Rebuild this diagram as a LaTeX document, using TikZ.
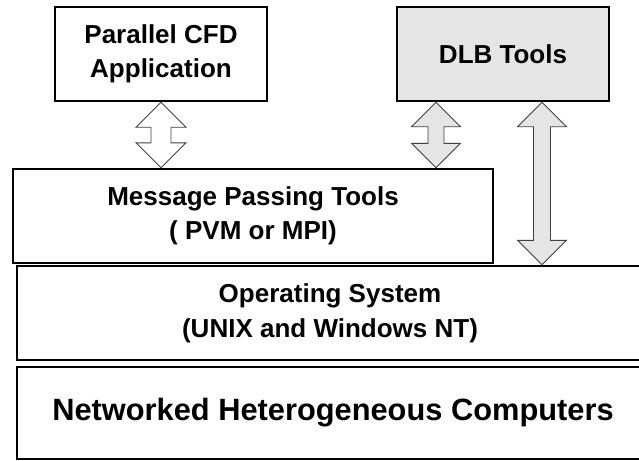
\documentclass[tikz,border=0pt]{standalone}
\usepackage{fontspec}
\setmainfont{Liberation Sans}
\usepackage{tikz}
\usetikzlibrary{calc}
\usepackage{xcolor}
\definecolor{dlbgray}{gray}{0.9}

% block arrow with a head at both ends: top, bottom, head half width, shaft half width, fill
\newcommand{\fatarrow}[5]{%
  \draw[arrowline, fill=#5] let \p1=(#1), \p2=(#2) in
    (\x1,\y1) -- ({\x1-#3pt},{\y1-#3pt}) -- ({\x1-#4pt},{\y1-#3pt})
    -- ({\x2-#4pt},{\y2+#3pt}) -- ({\x2-#3pt},{\y2+#3pt}) -- (\x2,\y2)
    -- ({\x2+#3pt},{\y2+#3pt}) -- ({\x2+#4pt},{\y2+#3pt})
    -- ({\x1+#4pt},{\y1-#3pt}) -- ({\x1+#3pt},{\y1-#3pt}) -- cycle;}

\begin{document}
\begin{tikzpicture}[x=1pt, y=-1pt,
    box/.style = {draw, line width=2.4pt, inner sep=0pt, align=center,
                  font=\bfseries\fontsize{26}{34}\selectfont},
    arrowline/.style = {draw=black!75, line width=0.9pt, line join=miter}]
        \useasboundingbox (0,0) rectangle (639,460);
        \clip (0,0) rectangle (639,460);
        \node[box, minimum width=212pt, minimum height=94pt] (cfd) at (161,54) {Parallel CFD\\Application};
        \node[box, fill=dlbgray, minimum width=212pt, minimum height=94pt] (dlb) at (503,54) {DLB Tools};
        \node[box, minimum width=480pt, minimum height=94pt] (mpt) at (253,216) {Message Passing Tools\\( PVM or MPI)};
        \node[box, minimum width=626pt, minimum height=94pt, font=\bfseries\fontsize{26}{35}\selectfont] (os) at (330,313) {Operating System\\(UNIX and Windows NT)};
        \node[box, minimum width=632pt, minimum height=92pt, font=\bfseries\fontsize{30.8}{36}\selectfont] (net) at (333,413) {Networked Heterogeneous Computers};
        \coordinate (midx) at (436,0);
        \coordinate (rightx) at (542,0);
        \fatarrow{cfd.south}{mpt.north -| cfd.south}{25}{10}{white}
        \fatarrow{dlb.south -| midx}{mpt.north -| midx}{24.5}{8}{dlbgray}
        \fatarrow{dlb.south -| rightx}{os.north -| rightx}{24.5}{8.5}{dlbgray}
\end{tikzpicture}
\end{document}
